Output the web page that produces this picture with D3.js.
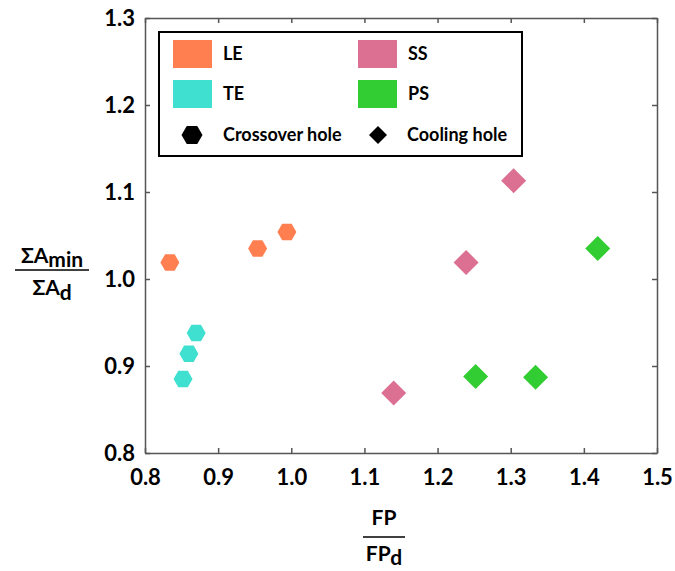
<!DOCTYPE html>
<html>
<head>
<meta charset="utf-8">
<script src="https://cdn.jsdelivr.net/npm/d3@7"></script>
<style>
  html, body { margin: 0; padding: 0; background: #fff; }
  svg { display: block; }
  text { font-family: Lato, "Open Sans", sans-serif; font-weight: bold; fill: #000; }
</style>
</head>
<body>
<svg id="chart" width="675" height="571"></svg>
<script>
// Flow parameter ratio vs. minimum area ratio, grouped by blade region
const groups = ["LE", "TE", "SS", "PS"];
const groupColors = ["#FF7F50", "#40E0D0", "#DB7093", "#32CD32"];
const groupShapes = ["hexagon", "hexagon", "diamond", "diamond"];

const leX = [0.834, 0.954, 0.994];
const leY = [1.019, 1.035, 1.054];
const teX = [0.870, 0.860, 0.852];
const teY = [0.938, 0.914, 0.885];
const ssX = [1.140, 1.239, 1.304];
const ssY = [0.869, 1.019, 1.113];
const psX = [1.419, 1.252, 1.334];
const psY = [1.035, 0.888, 0.887];

const xTicks = [0.8, 0.9, 1.0, 1.1, 1.2, 1.3, 1.4, 1.5];
const yTicks = [0.8, 0.9, 1.0, 1.1, 1.2, 1.3];
const shapeLegend = ["Crossover hole", "Cooling hole"];

const seriesX = [leX, teX, ssX, psX];
const seriesY = [leY, teY, ssY, psY];

const svg = d3.select("#chart");
const margin = { left: 145, top: 18, right: 18, bottom: 118 };
const W = 675, H = 571;
const x = d3.scaleLinear().domain([0.8, 1.5]).range([margin.left, W - margin.right]);
const y = d3.scaleLinear().domain([0.8, 1.3]).range([H - margin.bottom, margin.top]);

const axisColor = "#555";
const fmt = d3.format(".1f");

// Box axes with inward ticks
const gx = svg.append("g").attr("transform", `translate(0,${y(0.8)})`)
  .call(d3.axisBottom(x).tickValues(xTicks).tickFormat(fmt).tickSizeInner(-5).tickSizeOuter(0).tickPadding(12));
const gxTop = svg.append("g").attr("transform", `translate(0,${y(1.3)})`)
  .call(d3.axisTop(x).tickValues(xTicks).tickFormat("").tickSizeInner(-5).tickSizeOuter(0));
const gy = svg.append("g").attr("transform", `translate(${x(0.8)},0)`)
  .call(d3.axisLeft(y).tickValues(yTicks).tickFormat(fmt).tickSizeInner(-5).tickSizeOuter(0).tickPadding(10));
const gyRight = svg.append("g").attr("transform", `translate(${x(1.5)},0)`)
  .call(d3.axisRight(y).tickValues(yTicks).tickFormat("").tickSizeInner(-5).tickSizeOuter(0));

[gx, gxTop, gy, gyRight].forEach(g => {
  g.select(".domain").attr("stroke", axisColor).attr("stroke-width", 1.5);
  g.selectAll(".tick line").attr("stroke", axisColor).attr("stroke-width", 1.5);
  g.selectAll("text").attr("font-family", "Lato, 'Open Sans', sans-serif")
    .attr("font-weight", "bold").attr("font-size", 22).attr("fill", "#000");
});
gx.selectAll(".tick text").attr("dy", "0.9em");

// Marker shapes
function hexPath(r) {
  const pts = d3.range(6).map(i => {
    const a = Math.PI / 3 * i;
    return [r * Math.cos(a), r * Math.sin(a)];
  });
  return "M" + pts.map(p => p.join(",")).join("L") + "Z";
}
function diamondPath(r) {
  return `M0,${-r}L${r},0L0,${r}L${-r},0Z`;
}
function markerPath(shape, size) {
  return shape === "hexagon" ? hexPath(size) : diamondPath(size);
}

// Data points
groups.forEach((g, i) => {
  const pts = seriesX[i].map((v, j) => ({ x: v, y: seriesY[i][j] }));
  svg.append("g").selectAll("path").data(pts).join("path")
    .attr("transform", d => `translate(${x(d.x)},${y(d.y)})`)
    .attr("d", markerPath(groupShapes[i], groupShapes[i] === "hexagon" ? 9.5 : 12.5))
    .attr("fill", groupColors[i]);
});

// Legend
const legendFont = "'Open Sans', Lato, sans-serif";
const lg = svg.append("g").attr("transform", "translate(159,32)");
lg.append("rect").attr("width", 363).attr("height", 124)
  .attr("fill", "#fff").attr("stroke", "#000").attr("stroke-width", 2);
const legendCols = [14, 199];
const legendRows = [8, 48];
groups.forEach((g, i) => {
  const cx = legendCols[Math.floor(i / 2)];
  const cy = legendRows[i % 2];
  lg.append("rect").attr("x", cx).attr("y", cy).attr("width", 39).attr("height", 28)
    .attr("fill", groupColors[i]);
  lg.append("text").attr("x", cx + 50).attr("y", cy + 14).attr("dy", "0.35em")
    .attr("font-family", legendFont).attr("font-size", 18).text(g);
});
lg.append("path").attr("transform", "translate(33,103)").attr("d", hexPath(10.5)).attr("fill", "#000");
lg.append("text").attr("x", 64).attr("y", 103).attr("dy", "0.35em")
  .attr("font-family", legendFont).attr("font-size", 18).text(shapeLegend[0]);
lg.append("path").attr("transform", "translate(219,103)").attr("d", diamondPath(9)).attr("fill", "#000");
lg.append("text").attr("x", 248).attr("y", 103).attr("dy", "0.35em")
  .attr("font-family", legendFont).attr("font-size", 18).text(shapeLegend[1]);

// X axis label: FP / FP_d
const xl = svg.append("g").attr("transform", "translate(384,0)");
xl.append("text").attr("x", 0).attr("y", 525).attr("text-anchor", "middle").attr("font-size", 21).text("FP");
xl.append("line").attr("x1", -21).attr("x2", 21).attr("y1", 537).attr("y2", 537)
  .attr("stroke", "#000").attr("stroke-width", 1.5);
const xd = xl.append("text").attr("x", 0).attr("y", 561).attr("text-anchor", "middle").attr("font-size", 21);
xd.append("tspan").text("FP");
xd.append("tspan").attr("dy", 4).text("d");

// Y axis label: ΣA_min / ΣA_d
const yl = svg.append("g").attr("transform", "translate(52,0)");
const yn = yl.append("text").attr("x", 0).attr("y", 263).attr("text-anchor", "middle").attr("font-size", 21);
yn.append("tspan").text("ΣA");
yn.append("tspan").attr("dy", 4).text("min");
yl.append("line").attr("x1", -37).attr("x2", 37).attr("y1", 270).attr("y2", 270)
  .attr("stroke", "#000").attr("stroke-width", 1.5);
const yd = yl.append("text").attr("x", 0).attr("y", 295).attr("text-anchor", "middle").attr("font-size", 21);
yd.append("tspan").text("ΣA");
yd.append("tspan").attr("dy", 5).text("d");
</script>
</body>
</html>
